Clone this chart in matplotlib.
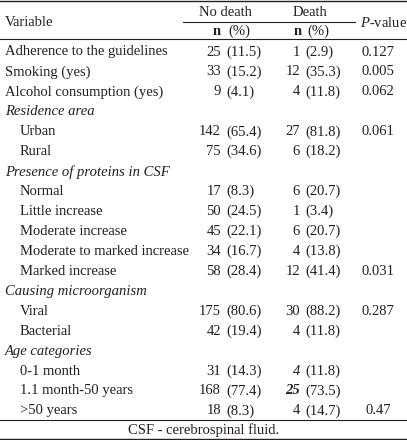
import matplotlib
matplotlib.use("Agg")
import matplotlib.pyplot as plt

plt.rcParams['font.family'] = ['Liberation Serif', 'DejaVu Serif']
plt.rcParams['mathtext.fontset'] = 'custom'
plt.rcParams['mathtext.rm'] = 'Liberation Serif'
plt.rcParams['mathtext.it'] = 'Liberation Serif:italic'

# Table content
labels = ["Adherence to the guidelines", "Smoking (yes)", "Alcohol consumption (yes)",
          "Residence area", "Urban", "Rural",
          "Presence of proteins in CSF", "Normal", "Little increase", "Moderate increase",
          "Moderate to marked increase", "Marked increase",
          "Causing microorganism", "Viral", "Bacterial",
          "Age categories", "0-1 month", "1.1 month-50 years", ">50 years"]
is_section = [False, False, False, True, False, False, True, False, False, False,
              False, False, True, False, False, True, False, False, False]
nodeath_n = ["25", "33", "9", "", "142", "75", "", "17", "50", "45", "34", "58",
             "", "175", "42", "", "31", "168", "18"]
nodeath_pct = ["(11.5)", "(15.2)", "(4.1)", "", "(65.4)", "(34.6)", "", "(8.3)", "(24.5)",
               "(22.1)", "(16.7)", "(28.4)", "", "(80.6)", "(19.4)", "", "(14.3)", "(77.4)", "(8.3)"]
death_n = ["1", "12", "4", "", "27", "6", "", "6", "1", "6", "4", "12",
           "", "30", "4", "", "4", "25", "4"]
death_pct = ["(2.9)", "(35.3)", "(11.8)", "", "(81.8)", "(18.2)", "", "(20.7)", "(3.4)",
             "(20.7)", "(13.8)", "(41.4)", "", "(88.2)", "(11.8)", "", "(11.8)", "(73.5)", "(14.7)"]
pvalues = ["0.127", "0.005", "0.062", "", "0.061", "", "", "", "", "", "", "0.031",
           "", "0.287", "", "", "", "", "0.47"]
italic_death_n = {16: "normal", 17: "bold"}  # rows where the death count is set in italics
footnote = "CSF - cerebrospinal fluid."

W, H = 407, 440
fig = plt.figure(figsize=(W / 100, H / 100), dpi=100)
ax = fig.add_axes([0, 0, 1, 1])
ax.set_xlim(0, W)
ax.set_ylim(H, 0)
ax.axis("off")

txt = "#231f20"
fs = 10.5

# rules
ax.plot([0, W], [1, 1], color=txt, lw=1.0)
ax.plot([183, 355], [22, 22], color=txt, lw=0.8)
ax.plot([0, W], [39.5, 39.5], color=txt, lw=0.8)
ax.plot([0, W], [420, 420], color=txt, lw=0.8)
ax.plot([0, W], [439, 439], color=txt, lw=1.0)

# header
ax.text(5, 23, "Variable", fontsize=fs, color=txt, va="center", ha="left")
ax.text(225, 12, "No death", fontsize=fs, color=txt, va="center", ha="center")
ax.text(310, 12, "Death", fontsize=fs, color=txt, va="center", ha="center")
ax.text(384, 23, "$\\mathit{P}$-value", fontsize=fs, color=txt, va="center", ha="center")
ax.text(221, 31.5, "n", fontsize=fs, color=txt, va="center", ha="right", weight="bold")
ax.text(228, 31.5, "(%)", fontsize=fs, color=txt, va="center", ha="left")
ax.text(302, 31.5, "n", fontsize=fs, color=txt, va="center", ha="right", weight="bold")
ax.text(307, 31.5, "(%)", fontsize=fs, color=txt, va="center", ha="left")

y0, dy = 52, 19.94
for i, lab in enumerate(labels):
    y = y0 + i * dy
    if is_section[i]:
        ax.text(5, y, lab, fontsize=fs, color=txt, va="center", ha="left", style="italic")
        continue
    indent = 20 if i > 3 else 5
    ax.text(indent, y, lab, fontsize=fs, color=txt, va="center", ha="left")
    ax.text(221, y, nodeath_n[i], fontsize=fs, color=txt, va="center", ha="right")
    ax.text(226, y, nodeath_pct[i], fontsize=fs, color=txt, va="center", ha="left")
    if i in italic_death_n:
        ax.text(300, y, death_n[i], fontsize=fs, color=txt, va="center", ha="right",
                style="italic", weight=italic_death_n[i])
    else:
        ax.text(300, y, death_n[i], fontsize=fs, color=txt, va="center", ha="right")
    ax.text(305, y, death_pct[i], fontsize=fs, color=txt, va="center", ha="left")
    ax.text(378, y, pvalues[i], fontsize=fs, color=txt, va="center", ha="center")

ax.text(W / 2, 430, footnote, fontsize=fs, color=txt, va="center", ha="center")

fig.savefig("out.png", dpi=100)
